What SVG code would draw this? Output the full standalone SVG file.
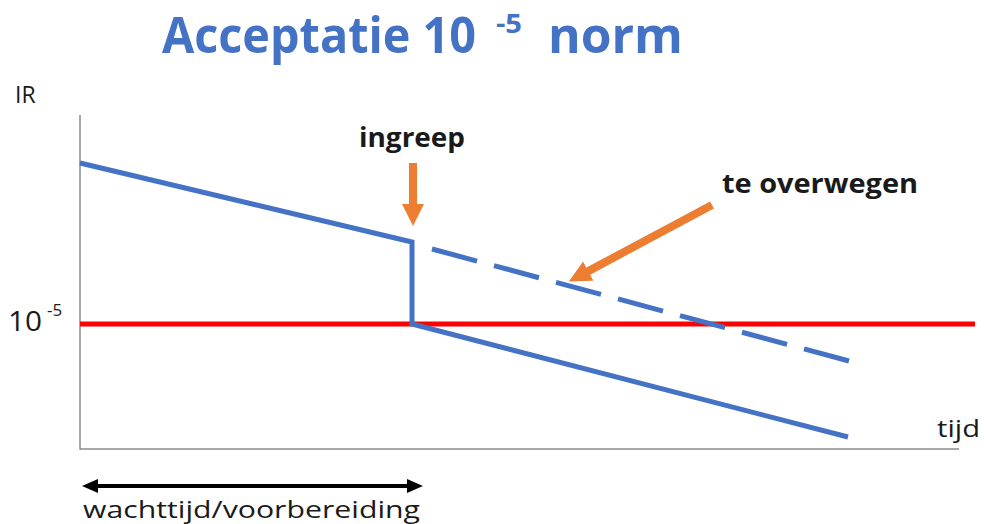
<svg xmlns="http://www.w3.org/2000/svg" width="984" height="524" viewBox="0 0 984 524">
<style>
.t{font-family:"Open Sans","Liberation Sans",sans-serif;fill:#1a1a1a}
.b{font-weight:bold}
.title{font-family:"Open Sans","Liberation Sans",sans-serif;font-weight:bold;fill:#4472C4}
.axis{stroke:#8c8c8c;stroke-width:1.5;fill:none}
.blue{stroke:#4472C4;stroke-width:5;fill:none}
.red{stroke:#FF0000;stroke-width:5;fill:none}
.orange{stroke:#ED7D31;stroke-width:8;fill:none}
.dbl{stroke:#000;stroke-width:4;fill:none}
</style>
<defs>
<marker id="oh" markerUnits="userSpaceOnUse" markerWidth="24" markerHeight="24" refX="1" refY="11" orient="auto">
<path d="M0,0 L22,11 L0,22 z" fill="#ED7D31"/>
</marker>
<marker id="bh" markerUnits="userSpaceOnUse" markerWidth="18" markerHeight="16" refX="1" refY="7" orient="auto-start-reverse">
<path d="M0,0 L16,7 L0,14 z" fill="#000"/>
</marker>
</defs>
<g id="title">
<text class="title" x="162" y="53" font-size="50" textLength="314" lengthAdjust="spacingAndGlyphs">Acceptatie 10</text>
<text class="title" x="496" y="33" font-size="26" textLength="26" lengthAdjust="spacingAndGlyphs">-5</text>
<text class="title" x="548" y="53" font-size="50" textLength="135" lengthAdjust="spacingAndGlyphs">norm</text>
</g>
<g id="axes">
<path class="axis" d="M80,115 V449 H959"/>
<text class="t" x="15" y="103" font-size="23">IR</text>
<text class="t" x="937" y="437" font-size="24" textLength="43" lengthAdjust="spacingAndGlyphs">tijd</text>
<text class="t" x="8" y="331" font-size="27" textLength="34" lengthAdjust="spacingAndGlyphs">10</text>
<text class="t" x="47" y="316" font-size="17">-5</text>
</g>
<g id="norm-line">
<line class="red" x1="80" y1="324" x2="975" y2="324"/>
</g>
<g id="risk-lines">
<polyline class="blue" points="80,163 412,242 412,324 848,437"/>
<line class="blue" x1="432" y1="249" x2="849" y2="361" stroke-dasharray="46.6 17.6"/>
</g>
<g id="ingreep">
<text class="t b" x="359" y="147" font-size="26" textLength="106" lengthAdjust="spacingAndGlyphs">ingreep</text>
</g>
<g id="te-overwegen">
<text class="t b" x="722" y="193" font-size="26" textLength="196" lengthAdjust="spacingAndGlyphs">te overwegen</text>
</g>
<g id="wachttijd">
<text class="t" x="83" y="518" font-size="23" textLength="337" lengthAdjust="spacingAndGlyphs">wachttijd/voorbereiding</text>
</g>
<g id="connectors">
<line class="orange" x1="413" y1="163" x2="413" y2="205" marker-end="url(#oh)"/>
<line class="orange" x1="712" y1="205" x2="587.4" y2="271.6" marker-end="url(#oh)"/>
<line class="dbl" x1="97" y1="486" x2="408" y2="486" marker-start="url(#bh)" marker-end="url(#bh)"/>
</g>
</svg>
